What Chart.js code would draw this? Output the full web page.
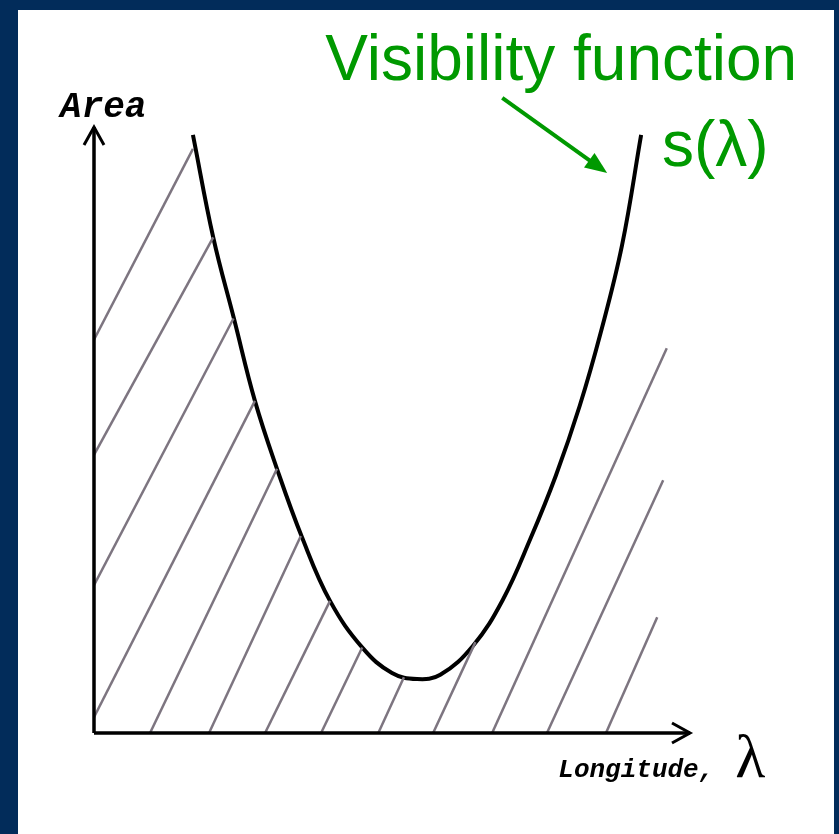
<!DOCTYPE html>
<html>
<head>
<meta charset="utf-8">
<script src="https://cdn.jsdelivr.net/npm/chart.js@4"></script>
<style>
  html, body { margin: 0; padding: 0; background: #022c5a; }
  #panel { position: absolute; left: 18px; top: 10px; width: 816px; height: 824px; background: #fff; }
</style>
</head>
<body>
<div id="panel"><canvas id="grafico" width="816" height="824"></canvas></div>
<script>
// curva s(lambda) (x: longitud, y: area, unidades 0-100)
var curvaX = [16.6, 20.0, 23.5, 27.0, 30.7, 34.9, 39.6, 45.1, 50.0, 54.2, 58.1, 63.6, 68.6, 73.2, 77.5, 81.5, 85.0, 88.6, 91.8];
var curvaY = [98.7, 81.8, 68.3, 54.8, 43.6, 32.3, 21.8, 14.0, 9.9, 8.9, 9.6, 14.4, 22.0, 32.0, 42.5, 54.0, 66.0, 80.5, 98.7];

// rayado: inicio y fin de cada linea
var rayasX0 = [0, 0, 0, 0, 9.4, 19.3, 28.7, 38.1, 47.7, 56.9, 66.8, 76.0, 85.9];
var rayasY0 = [64.9, 45.9, 24.4, 2.6, 0, 0, 0, 0, 0, 0, 0, 0, 0];
var rayasX1 = [16.6, 20.0, 23.4, 27.0, 30.7, 34.7, 39.6, 45.0, 52.0, 64.0, 96.1, 95.5, 94.5];
var rayasY1 = [96.4, 81.8, 68.4, 54.8, 43.6, 32.5, 21.8, 14.1, 9.2, 15.0, 63.5, 41.7, 19.1];

var etiquetaY = 'Area';
var etiquetaX = 'Longitude,';
var simbolo = 'λ';
var titulo1 = 'Visibility function';
var titulo2 = 's(λ)';

var datasets = [];
for (var i = 0; i < rayasX0.length; i++) {
    datasets.push({
        data: [{ x: rayasX0[i], y: rayasY0[i] }, { x: rayasX1[i], y: rayasY1[i] }],
        borderColor: '#7d7580',
        borderWidth: 2.5,
        pointRadius: 0,
        fill: false
    });
}
datasets.push({
    data: curvaX.map(function (v, k) { return { x: v, y: curvaY[k] }; }),
    borderColor: '#000',
    borderWidth: 4,
    pointRadius: 0,
    tension: 0.4,
    fill: false
});

// ejes con flechas y textos
var anotaciones = {
    id: 'anotaciones',
    afterDatasetsDraw: function (chart) {
        var ctx = chart.ctx;
        var sx = chart.scales.x, sy = chart.scales.y;
        var x0 = sx.getPixelForValue(0), y0 = sy.getPixelForValue(0);
        var xMax = sx.getPixelForValue(100), yMax = sy.getPixelForValue(100);
        ctx.save();
        ctx.strokeStyle = '#000';
        ctx.lineWidth = 3.5;
        ctx.lineCap = 'butt';
        ctx.beginPath();
        ctx.moveTo(x0, y0); ctx.lineTo(x0, yMax);
        ctx.moveTo(x0, y0); ctx.lineTo(xMax, y0);
        ctx.stroke();
        ctx.lineWidth = 3;
        ctx.beginPath();
        ctx.moveTo(x0 - 10, yMax + 18); ctx.lineTo(x0, yMax); ctx.lineTo(x0 + 10, yMax + 18);
        ctx.moveTo(xMax - 18, y0 - 10); ctx.lineTo(xMax, y0); ctx.lineTo(xMax - 18, y0 + 10);
        ctx.stroke();

        ctx.fillStyle = '#000';
        ctx.textBaseline = 'alphabetic';
        ctx.font = 'italic bold 36px "Liberation Mono"';
        ctx.fillText(etiquetaY, sx.getPixelForValue(-5.7), sy.getPixelForValue(101.7));
        ctx.font = 'italic bold 26px "Liberation Mono"';
        ctx.fillText(etiquetaX, sx.getPixelForValue(77.9), sy.getPixelForValue(-7.3));
        ctx.font = '62px "Liberation Serif"';
        ctx.fillText(simbolo, sx.getPixelForValue(107.6), sy.getPixelForValue(-7.3));

        ctx.fillStyle = '#009900';
        ctx.font = '64px "Liberation Sans"';
        ctx.fillText(titulo1, sx.getPixelForValue(38.8), sy.getPixelForValue(107.8));
        ctx.fillText(titulo2, sx.getPixelForValue(95.3), sy.getPixelForValue(93.6));

        // flecha verde
        var ax = sx.getPixelForValue(68.5), ay = sy.getPixelForValue(104.8);
        var bx = sx.getPixelForValue(86.1), by = sy.getPixelForValue(92.4);
        var ang = Math.atan2(by - ay, bx - ax);
        ctx.strokeStyle = '#009900';
        ctx.lineWidth = 4;
        ctx.beginPath();
        ctx.moveTo(ax, ay);
        ctx.lineTo(bx - 14 * Math.cos(ang), by - 14 * Math.sin(ang));
        ctx.stroke();
        ctx.beginPath();
        ctx.moveTo(bx, by);
        ctx.lineTo(bx - 22 * Math.cos(ang) + 9 * Math.sin(ang), by - 22 * Math.sin(ang) - 9 * Math.cos(ang));
        ctx.lineTo(bx - 22 * Math.cos(ang) - 9 * Math.sin(ang), by - 22 * Math.sin(ang) + 9 * Math.cos(ang));
        ctx.closePath();
        ctx.fillStyle = '#009900';
        ctx.fill();
        ctx.restore();
    }
};

var grafico = new Chart(document.getElementById('grafico').getContext('2d'), {
    type: 'line',
    data: { datasets: datasets },
    options: {
        responsive: false,
        animation: false,
        layout: { padding: { left: 76, top: 117, right: 144, bottom: 101 } },
        plugins: { legend: { display: false }, tooltip: { enabled: false } },
        scales: {
            x: { type: 'linear', min: 0, max: 100, display: false },
            y: { type: 'linear', min: 0, max: 100, display: false }
        }
    },
    plugins: [anotaciones]
});
</script>
</body>
</html>
